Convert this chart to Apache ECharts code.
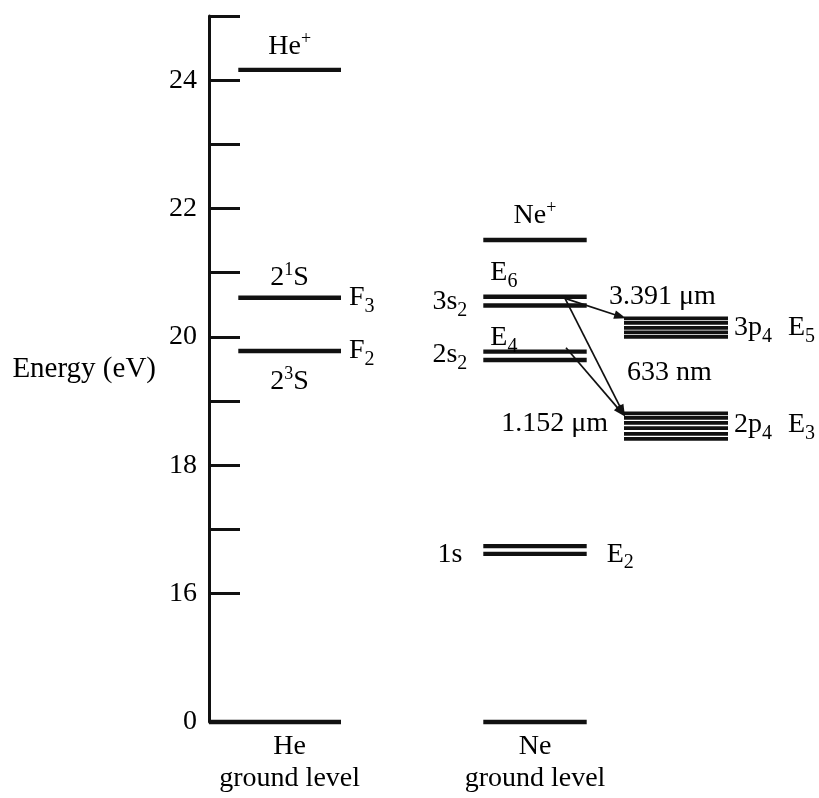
<!DOCTYPE html>
<html><head><meta charset="utf-8">
<script src="https://cdn.jsdelivr.net/npm/echarts@6/dist/echarts.min.js"></script>
<style>html,body{margin:0;padding:0;background:#fff}#chart{width:819px;height:798px}</style>
</head><body><div id="chart"></div>
<script>
// ---------- data (energies in eV; the ground level "0" sits at the axis break, drawn at 14) ----------
const yMin = 14, yMax = 25;
const yTickValues = [16, 17, 18, 19, 20, 21, 22, 23, 24, 25];
const yLabelValues = [14, 16, 18, 20, 22, 24];
const yLabelTexts = ['0', '16', '18', '20', '22', '24'];

const heLevelNames = ['He ground', '2³S (F2)', '2¹S (F3)', 'He+'];
const heLevelEnergies = [14, 19.78, 20.61, 24.16];
const neLevelNames = ['Ne ground', '1s a', '1s b', '2s2 a', '2s2 b', '3s2 a', '3s2 b', 'Ne+'];
const neLevelEnergies = [14, 16.62, 16.74, 19.64, 19.77, 20.49, 20.625, 21.51];
const ne3p4Energies = [20.00, 20.07, 20.14, 20.22, 20.29];
const ne2p4Energies = [18.41, 18.49, 18.58, 18.66, 18.74, 18.81];

const columnNames = ['He', 'Ne', 'Ne p'];
const columnStarts = [0.586, 5.486, 8.30];
const columnEnds = [2.64, 7.554, 10.38];
const groundLabels = ['He\nground level', 'Ne\nground level'];

const transitionNames = ['3.391 μm', '633 nm', '1.152 μm'];
const transitionFromX = [7.12, 7.12, 7.14];
const transitionFromE = [20.60, 20.60, 19.83];
const transitionToX = [8.34, 8.32, 8.32];
const transitionToE = [20.29, 18.76, 18.76];

// ---------- build ----------
const INK = '#111';
const FONT = 'Liberation Serif';
const heC = (columnStarts[0] + columnEnds[0]) / 2;
const neC = (columnStarts[1] + columnEnds[1]) / 2;
const heS = columnStarts[0], heE = columnEnds[0];
const neS = columnStarts[1], neE = columnEnds[1];
const pS = columnStarts[2], pE = columnEnds[2];

const heData = heLevelEnergies.map((e, i) => [i === 0 ? 0 : heS, heE, e]);
const neData = neLevelEnergies.map(e => [neS, neE, e]);
const pData = ne3p4Energies.concat(ne2p4Energies).map(e => [pS, pE, e]);
const arrowData = transitionNames.map((n, i) => [transitionFromX[i], transitionFromE[i], transitionToX[i], transitionToE[i]]);

const H = heLevelEnergies, N = neLevelEnergies, P3 = ne3p4Energies, P2 = ne2p4Energies;
const labelDefs = [
  ['He{sup|+}', heC, H[3], 'center', [0, -23]],
  ['2{sup|1}S', heC, H[2], 'center', [0, -20]],
  ['F{sub|3}', heE, H[2], 'left', [8, 0]],
  ['F{sub|2}', heE, H[1], 'left', [8, 0]],
  ['2{sup|3}S', heC, H[1], 'center', [0, 31]],
  ['Ne{sup|+}', neC, N[7], 'center', [0, -24]],
  ['E{sub|6}', neS, N[6], 'left', [7, -24]],
  ['3s{sub|2}', neS, N[6], 'right', [-16, 5]],
  ['E{sub|4}', neS, N[4], 'left', [7, -14]],
  ['2s{sub|2}', neS, N[4], 'right', [-16, 3]],
  ['1s', neS, N[2], 'right', [-21, 8]],
  ['E{sub|2}', neE, N[2], 'left', [20, 8]],
  [transitionNames[0], pS, P3[4], 'left', [-15, -22]],
  ['3p{sub|4}', pE, P3[4], 'left', [6, 9]],
  ['E{sub|5}', pE, P3[4], 'left', [60, 9]],
  [transitionNames[1], pS, P3[0], 'left', [3, 36]],
  [transitionNames[2], pS, P2[5], 'right', [-16, 10]],
  ['2p{sub|4}', pE, P2[5], 'left', [6, 11]],
  ['E{sub|3}', pE, P2[5], 'left', [60, 11]]
];
const labelData = labelDefs.map(d => ({
  value: [d[1], d[2]],
  label: { formatter: d[0], align: d[3], offset: d[4] }
}));

function levelRender(width) {
  return function (params, api) {
    const a = api.coord([api.value(0), api.value(2)]);
    const b = api.coord([api.value(1), api.value(2)]);
    return { type: 'line', shape: { x1: a[0], y1: a[1], x2: b[0], y2: b[1] },
      style: { stroke: INK, lineWidth: width } };
  };
}
function arrowRender(params, api) {
  const a = api.coord([api.value(0), api.value(1)]);
  const b = api.coord([api.value(2), api.value(3)]);
  const dx = b[0] - a[0], dy = b[1] - a[1], L = Math.hypot(dx, dy);
  const ux = dx / L, uy = dy / L, hl = 12, hw = 4.3;
  const bx = b[0] - ux * hl, by = b[1] - uy * hl;
  return { type: 'group', children: [
    { type: 'line', shape: { x1: a[0], y1: a[1], x2: bx + ux * 2, y2: by + uy * 2 },
      style: { stroke: INK, lineWidth: 1.7 } },
    { type: 'polygon', shape: { points: [[b[0], b[1]], [bx - uy * hw, by + ux * hw], [bx + uy * hw, by - ux * hw]] },
      style: { fill: INK } }
  ] };
}

const xLabelValues = [heC, neC];
const chart = echarts.init(document.getElementById('chart'));
chart.setOption({
  animation: false,
  backgroundColor: '#fff',
  grid: { left: 209, right: 10, top: 16, bottom: 76 },
  xAxis: {
    type: 'value', min: 0, max: 12,
    axisLine: { show: false }, axisTick: { show: false }, splitLine: { show: false },
    axisLabel: {
      customValues: xLabelValues,
      formatter: v => groundLabels[Math.abs(v - heC) < Math.abs(v - neC) ? 0 : 1],
      fontFamily: FONT, fontSize: 28, lineHeight: 32, color: '#000', margin: 9
    }
  },
  yAxis: {
    type: 'value', min: yMin, max: yMax,
    name: 'Energy (eV)', nameLocation: 'middle', nameRotate: 0, nameGap: 53,
    nameTextStyle: { fontFamily: FONT, fontSize: 29, color: '#000' },
    axisLine: { show: true, lineStyle: { color: INK, width: 3 } },
    axisTick: { show: true, inside: true, length: 31, customValues: yTickValues, lineStyle: { color: INK, width: 3 } },
    axisLabel: {
      customValues: yLabelValues,
      formatter: v => yLabelTexts[yLabelValues.indexOf(Math.round(v))],
      fontFamily: FONT, fontSize: 28, color: '#000', margin: 12
    },
    splitLine: { show: false }
  },
  series: [
    { type: 'custom', name: 'He levels', renderItem: levelRender(4.4), data: heData, encode: { x: [0, 1], y: 2 }, silent: true },
    { type: 'custom', name: 'Ne levels', renderItem: levelRender(4.4), data: neData, encode: { x: [0, 1], y: 2 }, silent: true },
    { type: 'custom', name: 'Ne p levels', renderItem: levelRender(3.7), data: pData, encode: { x: [0, 1], y: 2 }, silent: true },
    { type: 'custom', name: 'transitions', renderItem: arrowRender, data: arrowData, encode: { x: [0, 2], y: [1, 3] }, silent: true },
    {
      type: 'scatter', name: 'labels', symbolSize: 0, silent: true, data: labelData,
      itemStyle: { opacity: 1 },
      label: {
        show: true, position: 'inside', verticalAlign: 'middle', opacity: 1,
        fontFamily: FONT, fontSize: 28, lineHeight: 28, color: '#000',
        rich: {
          sup: { fontFamily: FONT, fontSize: 18, height: 13, lineHeight: 13, verticalAlign: 'top', color: '#000' },
          sub: { fontFamily: FONT, fontSize: 20, height: 10, lineHeight: 10, verticalAlign: 'bottom', color: '#000' }
        }
      }
    }
  ]
});
</script></body></html>
